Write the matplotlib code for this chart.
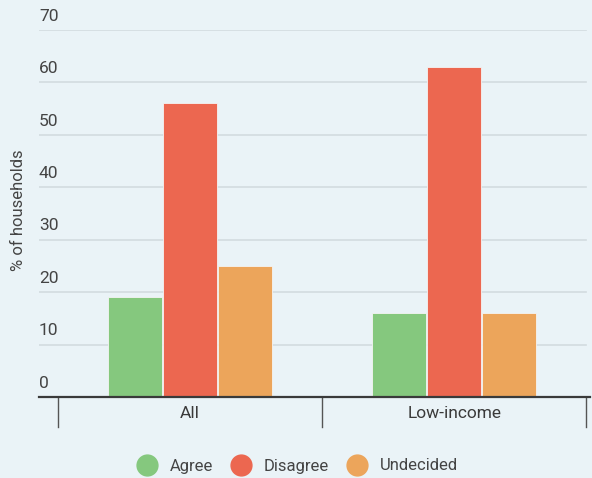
import matplotlib
matplotlib.use("Agg")
import matplotlib.pyplot as plt
import matplotlib.transforms as mtransforms
from matplotlib.lines import Line2D

plt.rcParams['font.family'] = ['Roboto', 'DejaVu Sans']

categories = ["All", "Low-income"]
series = ["Agree", "Disagree", "Undecided"]
agree = [19, 16]
disagree = [56, 63]
undecided = [25, 16]
yticks = [0, 10, 20, 30, 40, 50, 60, 70]

colors = ["#85C87E", "#EC6750", "#ECA55B"]
bg = "#EAF3F7"
txt = "#444444"

W, H = 592, 478
fig = plt.figure(figsize=(W / 100, H / 100), dpi=100, facecolor=bg)
ax = fig.add_axes([39 / W, (H - 397) / H, (590 - 39) / W, (397 - 30) / H], facecolor=bg)

x = list(range(len(categories)))
bw = 0.205
offs = [-0.208, 0.0, 0.208]
for vals, off, c, name in zip([agree, disagree, undecided], offs, colors, series):
    ax.bar([xi + off for xi in x], vals, width=bw, color=c, edgecolor="#f4f4f4",
           linewidth=0.6, zorder=3, label=name)

ax.set_ylim(0, 70)
ax.set_xlim(-0.572, 1.514)
for s in ax.spines.values():
    s.set_visible(False)
ax.set_xticks([])
ax.set_yticks([])

# gridlines and tick labels
for t in yticks:
    if t > 0:
        ax.plot([-0.572, 1.5], [t, t], color="#D3DBDF", lw=1.2, zorder=1)
    ax.annotate(str(t), xy=(0, t), xycoords=("axes fraction", "data"),
                xytext=(0, 4.5), textcoords="offset points", ha="left", va="bottom",
                fontsize=12.5, color=txt)

# baseline
ax.plot([-0.572, 1.514], [0, 0], color="#3a3a3a", lw=1.6, zorder=4, clip_on=False)

# category separators
trans = mtransforms.blended_transform_factory(ax.transData, ax.transAxes)
for b in [-0.5, 0.5, 1.5]:
    ax.plot([b, b], [0, -30 / 367], color="#555555", lw=1.0, transform=trans, clip_on=False)

for xi, cat in zip(x, categories):
    ax.text(xi, -16 / 367, cat, transform=trans, ha="center", va="center",
            fontsize=12.5, color="#3a3a3a")

fig.text(19 / W, 1 - 210 / H, "% of households", rotation=90, ha="center", va="center",
         fontsize=12, color=txt)

handles = [Line2D([0], [0], marker="o", linestyle="none", markersize=15,
                  markerfacecolor=c, markeredgecolor=c) for c in colors]
fig.legend(handles, series, loc="center", bbox_to_anchor=(294 / W, 1 - 466 / H),
           ncol=3, frameon=False, fontsize=12, labelcolor=txt,
           handletextpad=0.35, columnspacing=0.7)

fig.savefig("out.png", dpi=100, facecolor=bg)
